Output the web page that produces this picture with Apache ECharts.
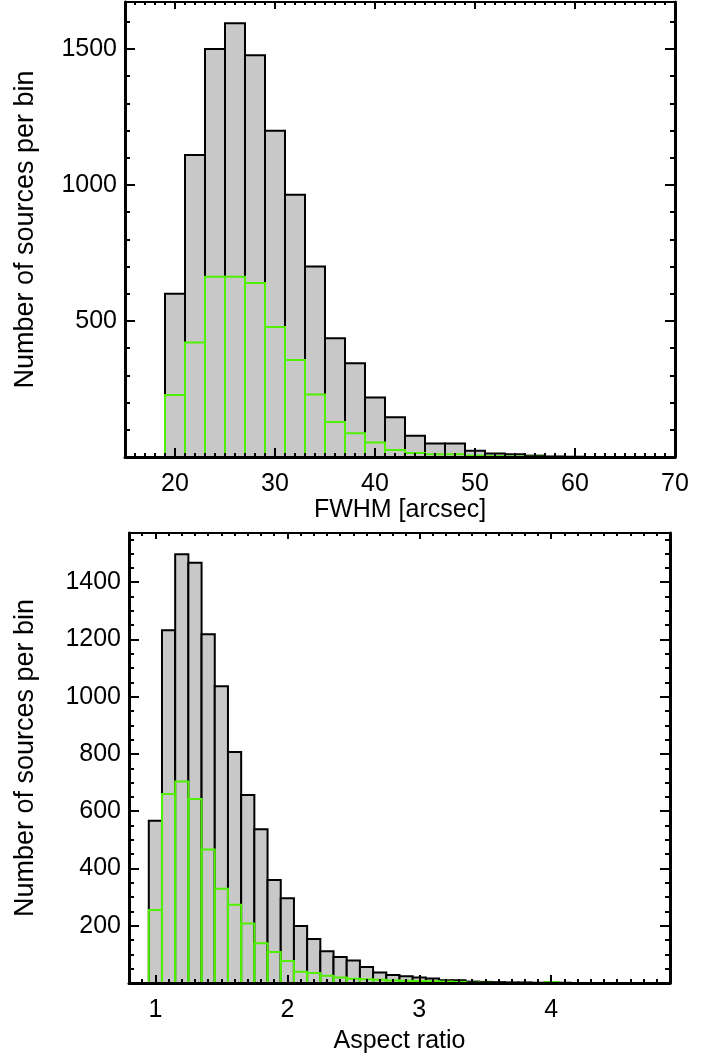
<!DOCTYPE html>
<html>
<head>
<meta charset="utf-8">
<script src="https://cdn.jsdelivr.net/npm/echarts@6/dist/echarts.min.js"></script>
<style>
html,body{margin:0;padding:0;background:#fff;}
#c{width:712px;height:1055px;}
</style>
</head>
<body>
<div id="c"></div>
<script>
// ---------- data ----------
const fwhmCenters = [20,22,24,26,28,30,32,34,36,38,40,42,44,46,48,50,52,54,56,58,60];
const fwhmAll     = [600,1110,1500,1595,1477,1200,964,700,437,345,219,146,78,50,50,23,13,10,5,2,1];
const fwhmSel     = [228,421,663,663,640,478,357,230,129,87,53,26,15,10,10,5,3,2,1,0,0];
const fwhmBinWidth = 2;

const arCenters = [1.0,1.1,1.2,1.3,1.4,1.5,1.6,1.7,1.8,1.9,2.0,2.1,2.2,2.3,2.4,2.5,2.6,2.7,2.8,2.9,3.0,3.1,3.2,3.3,3.4,3.5,3.6,3.7,3.8,3.9,4.0,4.1];
const arAll       = [567,1232,1498,1468,1218,1037,807,657,537,360,296,199,154,111,91,79,56,37,28,24,19,16,10,10,5,4,3,2,2,1,2,1];
const arSel       = [255,660,704,643,466,329,273,208,139,108,77,39,35,25,19,15,13,11,9,8,7,6,5,4,1,1,0,0,0,0,3,0];
const arBinWidth = 0.1;

const fwhmXTicks = [20,30,40,50,60,70];
const fwhmYTicks = [500,1000,1500];
const arXTicks = [1,2,3,4];
const arYTicks = [200,400,600,800,1000,1200,1400];

// ---------- style ----------
const FONT = "'Liberation Sans', Helvetica, Arial, sans-serif";
const FS = 25;
const FS_YNAME = 27;
const GRAY = '#c8c8c8';
const GREEN = '#4ff000';

const panels = [
  {grid:{left:125, top:2, width:550, height:455}, xmin:15, xmax:70, ymin:0, ymax:1673,
   xTicks:fwhmXTicks, yTicks:fwhmYTicks, xMinor:1, yMinor:100, xName:'FWHM [arcsec]', xNameGap:41, yNameGap:86,
   xMajLen:9, xMinLen:4, yMajLen:10, yMinLen:5,
   centers:fwhmCenters, all:fwhmAll, sel:fwhmSel, bw:fwhmBinWidth},
  {grid:{left:129, top:533, width:541, height:450}, xmin:0.8, xmax:4.9, ymin:0, ymax:1572,
   xTicks:arXTicks, yTicks:arYTicks, xMinor:0.1, yMinor:50, xName:'Aspect ratio', xNameGap:46, yNameGap:90,
   xMajLen:8, xMinLen:4, yMajLen:10, yMinLen:5,
   centers:arCenters, all:arAll, sel:arSel, bw:arBinWidth}
];

const grids = [], xAxes = [], yAxes = [], series = [];
const plain = v => String(v);

function histItem(bw, style) {
  return function (params, api) {
    const c = api.value(0), v = api.value(1);
    if (!v) return null;
    const p0 = api.coord([c - bw / 2, v]);
    const p1 = api.coord([c + bw / 2, 0]);
    return {
      type: 'rect',
      shape: {x: p0[0], y: p0[1], width: p1[0] - p0[0], height: p1[1] - p0[1]},
      style: style
    };
  };
}

panels.forEach((p, g) => {
  grids.push(Object.assign({containLabel:false}, p.grid));
  const xBase = xAxes.length, yBase = yAxes.length;
  const common = {gridIndex:g, type:'value', splitLine:{show:false}, z:10};
  // x major bottom
  xAxes.push(Object.assign({}, common, {
    position:'bottom', min:p.xmin, max:p.xmax,
    axisLine:{show:true, onZero:false, lineStyle:{color:'#000', width:3}},
    axisTick:{show:true, inside:true, length:p.xMajLen, customValues:p.xTicks, lineStyle:{color:'#000', width:2}},
    axisLabel:{show:true, customValues:p.xTicks, formatter:plain, margin:15, color:'#000', fontSize:FS, fontFamily:FONT},
    name:p.xName, nameLocation:'middle', nameGap:p.xNameGap,
    nameTextStyle:{color:'#000', fontSize:FS, fontFamily:FONT}
  }));
  // x minor bottom
  xAxes.push(Object.assign({}, common, {
    position:'bottom', min:p.xmin, max:p.xmax, interval:p.xMinor,
    axisLine:{show:false, onZero:false},
    axisTick:{show:true, inside:true, length:p.xMinLen, lineStyle:{color:'#000', width:2}},
    axisLabel:{show:false}
  }));
  // x major top
  xAxes.push(Object.assign({}, common, {
    position:'top', min:p.xmin, max:p.xmax,
    axisLine:{show:true, onZero:false, lineStyle:{color:'#000', width:2}},
    axisTick:{show:true, inside:true, length:p.xMajLen - 2, customValues:p.xTicks, lineStyle:{color:'#000', width:2}},
    axisLabel:{show:false}
  }));
  // x minor top
  xAxes.push(Object.assign({}, common, {
    position:'top', min:p.xmin, max:p.xmax, interval:p.xMinor,
    axisLine:{show:false, onZero:false},
    axisTick:{show:true, inside:true, length:p.xMinLen - 1, lineStyle:{color:'#000', width:2}},
    axisLabel:{show:false}
  }));
  // y major left
  yAxes.push(Object.assign({}, common, {
    position:'left', min:p.ymin, max:p.ymax,
    axisLine:{show:true, onZero:false, lineStyle:{color:'#000', width:3}},
    axisTick:{show:true, inside:true, length:p.yMajLen, customValues:p.yTicks, lineStyle:{color:'#000', width:2}},
    axisLabel:{show:true, customValues:p.yTicks, formatter:plain, margin:8, color:'#000', fontSize:FS, fontFamily:FONT},
    name:'Number of sources per bin', nameLocation:'middle', nameGap:p.yNameGap, nameRotate:90,
    nameTextStyle:{color:'#000', fontSize:FS_YNAME, fontFamily:FONT}
  }));
  // y minor left
  yAxes.push(Object.assign({}, common, {
    position:'left', min:p.ymin, max:p.ymax, interval:p.yMinor,
    axisLine:{show:false, onZero:false},
    axisTick:{show:true, inside:true, length:p.yMinLen, lineStyle:{color:'#000', width:2}},
    axisLabel:{show:false}
  }));
  // y major right
  yAxes.push(Object.assign({}, common, {
    position:'right', min:p.ymin, max:p.ymax,
    axisLine:{show:true, onZero:false, lineStyle:{color:'#000', width:3}},
    axisTick:{show:true, inside:true, length:p.yMajLen, customValues:p.yTicks, lineStyle:{color:'#000', width:2}},
    axisLabel:{show:false}
  }));
  // y minor right
  yAxes.push(Object.assign({}, common, {
    position:'right', min:p.ymin, max:p.ymax, interval:p.yMinor,
    axisLine:{show:false, onZero:false},
    axisTick:{show:true, inside:true, length:p.yMinLen, lineStyle:{color:'#000', width:2}},
    axisLabel:{show:false}
  }));

  series.push({
    type:'custom', xAxisIndex:xBase, yAxisIndex:yBase, z:2, clip:true,
    encode:{x:0, y:1},
    data:p.centers.map((c, i) => [c, p.all[i]]),
    renderItem:histItem(p.bw, {fill:GRAY, stroke:'#000', lineWidth:2})
  });
  series.push({
    type:'custom', xAxisIndex:xBase, yAxisIndex:yBase, z:3, clip:true,
    encode:{x:0, y:1},
    data:p.centers.map((c, i) => [c, p.sel[i]]),
    renderItem:histItem(p.bw, {fill:null, stroke:GREEN, lineWidth:2})
  });
});

const chart = echarts.init(document.getElementById('c'), null, {renderer:'canvas'});
chart.setOption({
  animation:false,
  backgroundColor:'#fff',
  grid:grids, xAxis:xAxes, yAxis:yAxes, series:series
});
</script>
</body>
</html>
